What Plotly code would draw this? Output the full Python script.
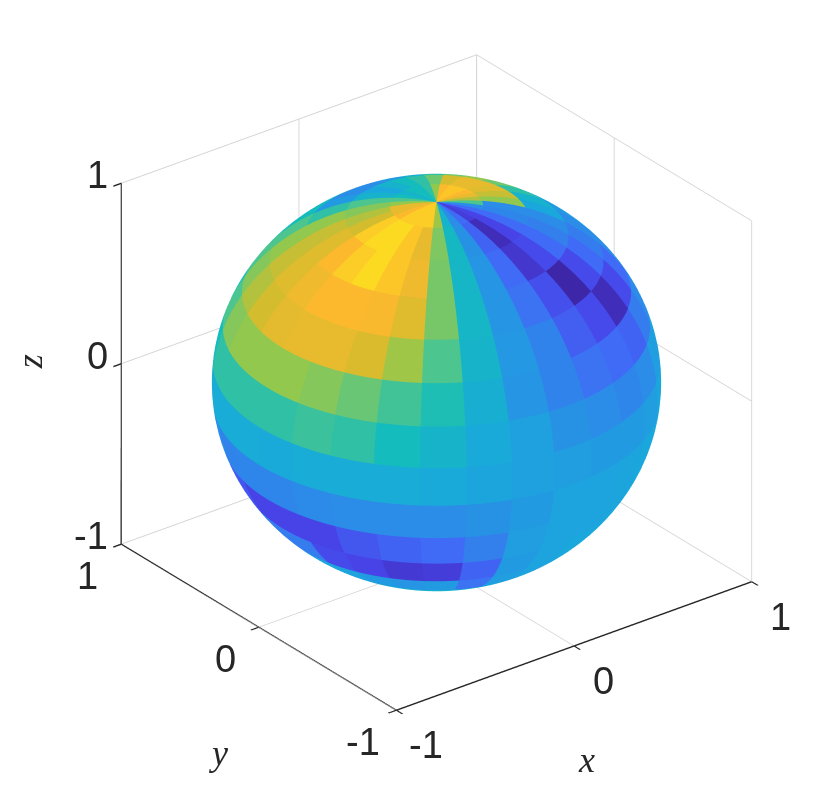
import numpy as np
import plotly.graph_objects as go

# face values, rows north to south, 12 degree cells
# columns start at longitude -216 and go east
r01 = [.85,.85,.90,.93,.93,.93,.93,.72,.45,.30,.20,.08,.10,.20,.30, .60,.75,.85,.90,.92,.92,.90,.70,.55,.50,.50,.45,.50,.60,.70]
r02 = [.75,.80,.93,.95,.95,.92,.85,.67,.48,.32,.18,.03,.10,.20,.28, .30,.70,.78,.83,.85,.85,.80,.65,.55,.50,.45,.40,.45,.60,.68]
r03 = [.78,.83,.90,.93,.95,.92,.87,.66,.47,.33,.20,.06,.12,.20,.26, .30,.40,.45,.55,.65,.70,.65,.55,.45,.35,.30,.30,.35,.55,.70]
r04 = [.78,.83,.87,.90,.90,.89,.83,.66,.47,.33,.22,.13,.00,.12,.20, .25,.30,.35,.40,.45,.50,.50,.50,.50,.50,.50,.50,.50,.60,.70]
r05 = [.75,.80,.84,.85,.85,.82,.72,.60,.46,.34,.27,.17,.12,.03,.12, .20,.30,.35,.40,.45,.50,.50,.50,.50,.50,.50,.50,.50,.60,.68]
r06 = [.68,.70,.70,.70,.68,.64,.58,.52,.43,.33,.27,.22,.20,.18,.25, .30,.30,.35,.40,.45,.50,.50,.50,.50,.50,.50,.50,.50,.50,.60]
r07 = [.55,.55,.55,.55,.57,.55,.50,.46,.41,.37,.32,.30,.28,.30,.36, .40,.40,.40,.40,.45,.50,.50,.50,.50,.50,.50,.50,.50,.50,.50]
r08 = [.42,.42,.42,.41,.42,.42,.42,.41,.39,.37,.36,.35,.35,.36,.40, .40,.40,.40,.40,.45,.50,.50,.50,.50,.50,.50,.50,.50,.50,.45]
r09 = [.30,.27,.28,.28,.29,.30,.30,.30,.32,.35,.38,.38,.39,.40,.42, .45,.50,.50,.50,.50,.50,.50,.50,.50,.50,.50,.50,.50,.50,.35]
r10 = [.20,.15,.10,.10,.10,.15,.18,.20,.26,.36,.38,.38,.39,.40,.42, .45,.50,.50,.50,.50,.50,.50,.50,.50,.50,.50,.50,.50,.50,.25]
r11 = [.30,.30,.25,.25,.12,.10,.07,.08,.18,.35,.38,.40,.40,.42,.45, .50,.50,.50,.50,.50,.50,.50,.50,.50,.50,.50,.50,.50,.50,.30]
r12 = [.45,.45,.45,.40,.38,.35,.33,.35,.22,.36,.38,.40,.42,.45,.48, .50,.50,.50,.50,.50,.50,.50,.50,.50,.50,.50,.50,.50,.50,.45]
r13 = [.45]*30
r14 = [.45]*30
r15 = [.45]*30
face_values = np.array([r01,r02,r03,r04,r05,r06,r07,r08,r09,r10,r11,r12,r13,r14,r15])

tick_vals = [-1, 0, 1]
tick_text = ['-1', '0', '1']
parula = [[0.0,'#3e26a8'],[0.1,'#4744e8'],[0.2,'#3f6cf6'],[0.3,'#2a8ee6'],[0.4,'#1aa8dc'],
          [0.5,'#14bcbc'],[0.6,'#4cc58e'],[0.7,'#94c84e'],[0.8,'#d2bc2e'],[0.9,'#fdb92e'],[1.0,'#f9fb15']]

# sphere mesh, each colour cell is split so the outline stays round
sub = 4
fine = np.repeat(np.repeat(face_values, sub, axis=0), sub, axis=1)
n_lat, n_lon = fine.shape
lat = np.radians(np.linspace(90, -90, n_lat + 1))
lon = np.radians(np.linspace(-216, 144, n_lon + 1))
LON, LAT = np.meshgrid(lon, lat)
x = (np.cos(LAT) * np.cos(LON)).ravel()
y = (np.cos(LAT) * np.sin(LON)).ravel()
z = np.sin(LAT).ravel()

i, j, k, cell = [], [], [], []
for a in range(n_lat):
    for b in range(n_lon):
        p0 = a * (n_lon + 1) + b
        p1 = p0 + 1
        p2 = p0 + n_lon + 1
        p3 = p2 + 1
        i += [p0, p1]
        j += [p1, p3]
        k += [p2, p2]
        cell += [fine[a, b]] * 2

mesh = go.Mesh3d(x=x, y=y, z=z, i=i, j=j, k=k, intensity=cell, intensitymode='cell',
                 colorscale=parula, cmin=0, cmax=1, showscale=False, flatshading=True,
                 lighting=dict(ambient=1, diffuse=0, specular=0, fresnel=0, roughness=1))

tick_font = dict(family='Liberation Sans', size=38, color='#262626')
title_font = dict(family='Liberation Serif', size=36, color='#262626')

def axis():
    return dict(title=dict(text=''), showticklabels=False,
                range=[-1, 1], tickvals=tick_vals, ticks='inside', ticklen=10, tickwidth=3,
                tickcolor='#262626', showline=True, linecolor='#262626',
                linewidth=3, gridcolor='#d4d4d4', gridwidth=2, showbackground=False,
                zeroline=False, showspikes=False)

# tick labels and axis titles sit further from the box than gl3d puts them
notes = []
def label(px, py, pz, text, font, dx, dy, angle=0, anchor='center'):
    notes.append(dict(x=px, y=py, z=pz, text=text, font=font, showarrow=False,
                      xanchor=anchor, yanchor='middle', xshift=dx, yshift=dy, textangle=angle))

for v, t in zip(tick_vals, tick_text):
    label(v, -1, -1, t, tick_font, 29, -35)
    label(-1, v, -1, t, tick_font, -34, -32)
    label(-1, 1, v, t, tick_font, -12, 8, anchor='right')
label(0, -1, -1, '<i>x</i>', title_font, 12, -114)
label(-1, 0, -1, '<i>y</i>', title_font, -41, -126)
label(-1, 1, 0, '<i>z</i>', title_font, -92, 2, -90)

fig = go.Figure(data=[mesh])
fig.update_layout(
    width=830, height=795, margin=dict(l=0, r=0, t=0, b=0),
    paper_bgcolor='white', showlegend=False,
    scene=dict(
        domain=dict(x=[0.033, 1.0], y=[0.058, 1.0]),
        xaxis=axis(), yaxis=axis(), zaxis=axis(),
        aspectmode='manual', aspectratio=dict(x=1.2, y=1.2, z=1.09),
        annotations=notes,
        camera=dict(projection=dict(type='orthographic'),
                    eye=dict(x=-0.973, y=-1.257, z=0.84),
                    center=dict(x=0, y=0, z=0), up=dict(x=0, y=0, z=1)),
    ),
)
fig.write_html("out.html")
